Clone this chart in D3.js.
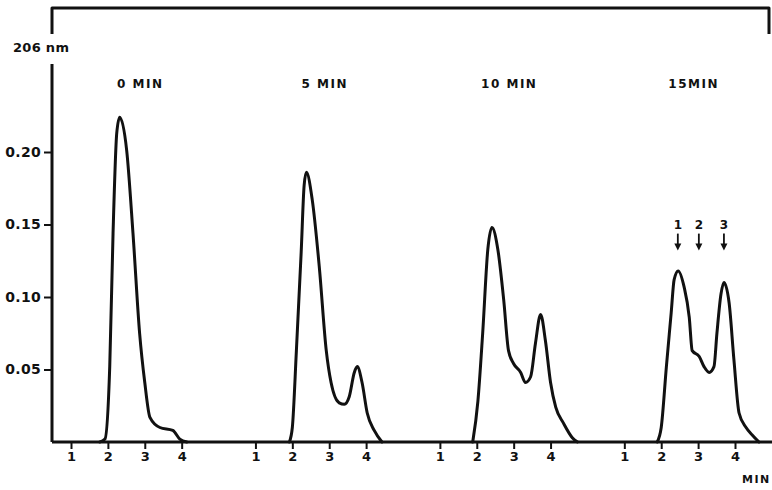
<!DOCTYPE html>
<html>
<head>
<meta charset="utf-8">
<script src="https://cdn.jsdelivr.net/npm/d3@7/dist/d3.min.js"></script>
<style>
  html, body { margin: 0; padding: 0; background: #fff; }
  svg { display: block; }
  text { font-family: "DejaVu Sans", sans-serif; font-weight: bold; fill: #111; }
</style>
</head>
<body>
<svg id="chart" width="772" height="490"></svg>
<script>
// Injection times (min) of the four chromatograms and their titles
const injectionTimes = [0, 5, 10, 15];
const panelTitles = ["0 MIN", "5 MIN", "10 MIN", "15MIN"];

// Absorbance at 206 nm vs. elution time (min) for each chromatogram
const trace0 = [[1.78,0],[1.92,0.002],[2.05,0.052],[2.14,0.144],[2.24,0.213],[2.32,0.224],[2.51,0.201],[2.68,0.144],[2.86,0.075],[3.0,0.041],[3.14,0.017],[3.41,0.010],[3.76,0.008],[3.95,0.002],[4.14,0]];
const trace5 = [[1.92,0],[2.0,0.010],[2.11,0.063],[2.24,0.131],[2.32,0.177],[2.38,0.186],[2.54,0.167],[2.73,0.121],[2.92,0.063],[3.05,0.041],[3.27,0.027],[3.41,0.026],[3.54,0.031],[3.68,0.048],[3.76,0.052],[3.89,0.041],[4.03,0.020],[4.22,0.008],[4.43,0]];
const trace10 = [[1.89,0],[2.03,0.028],[2.16,0.075],[2.30,0.133],[2.41,0.148],[2.57,0.133],[2.73,0.098],[2.86,0.063],[3.0,0.054],[3.19,0.048],[3.32,0.041],[3.46,0.045],[3.59,0.068],[3.73,0.088],[3.86,0.070],[4.0,0.041],[4.14,0.024],[4.35,0.013],[4.59,0.003],[4.73,0]];
const trace15 = [[1.89,0],[2.0,0.010],[2.14,0.052],[2.27,0.089],[2.35,0.112],[2.46,0.118],[2.62,0.107],[2.76,0.086],[2.84,0.063],[3.03,0.059],[3.16,0.052],[3.30,0.048],[3.43,0.052],[3.51,0.075],[3.62,0.102],[3.70,0.110],[3.84,0.096],[3.97,0.057],[4.11,0.020],[4.30,0.010],[4.46,0.005],[4.65,0]];
const traces = [trace0, trace5, trace10, trace15];

// Axis ticks
const yTicks = [0.05, 0.10, 0.15, 0.20];
const xTicks = [1, 2, 3, 4];

// Peak markers on the 15 min chromatogram
const peakTimes = [2.45, 3.02, 3.70];
const peakLabels = ["1", "2", "3"];
const peakMarkerLevel = 0.132;

const svg = d3.select("#chart");
const ink = "#111";

// One continuous time axis; each chromatogram is shifted by its injection time
const x = d3.scaleLinear().domain([1, 19]).range([71, 735]);
const y = d3.scaleLinear().domain([0, 0.20]).range([442, 152]);

const axisX = 52, topY = 8, rightX = 769, baseY = y(0);

// Frame: top rule with right end, broken left axis around the unit label
svg.append("path")
  .attr("d", `M${axisX},34 L${axisX},${topY} L${rightX},${topY} L${rightX},34`)
  .attr("fill", "none").attr("stroke", ink).attr("stroke-width", 3)
  .attr("stroke-linejoin", "round");
svg.append("line")
  .attr("x1", axisX).attr("x2", axisX).attr("y1", 64).attr("y2", baseY)
  .attr("stroke", ink).attr("stroke-width", 3);
svg.append("line")
  .attr("x1", axisX).attr("x2", 772).attr("y1", baseY).attr("y2", baseY)
  .attr("stroke", ink).attr("stroke-width", 3);

svg.append("text")
  .attr("x", 13).attr("y", 52)
  .attr("font-size", 13).attr("letter-spacing", 0.3)
  .text("206 nm");

// Y axis ticks
const yAxis = d3.axisLeft(y).tickValues(yTicks).tickFormat(d3.format(".2f"))
  .tickSize(8).tickPadding(3);
const gy = svg.append("g").attr("transform", `translate(${axisX},0)`).call(yAxis);
gy.select(".domain").remove();
gy.selectAll(".tick line").attr("stroke", ink).attr("stroke-width", 2);
gy.selectAll(".tick text")
  .attr("font-family", "DejaVu Sans, sans-serif").attr("font-weight", "bold")
  .attr("font-size", 14).attr("letter-spacing", 0.3).attr("fill", ink);

// X axis ticks: 1..4 min within each chromatogram
const xTickValues = injectionTimes.flatMap(t0 => xTicks.map(t => t + t0));
const xAxis = d3.axisBottom(x).tickValues(xTickValues)
  .tickFormat(d => String(((d - 1) % 5) + 1)).tickSize(7).tickPadding(3);
const gx = svg.append("g").attr("transform", `translate(0,${baseY})`).call(xAxis);
gx.select(".domain").remove();
gx.selectAll(".tick line").attr("stroke", ink).attr("stroke-width", 2);
gx.selectAll(".tick text")
  .attr("font-family", "DejaVu Sans, sans-serif").attr("font-weight", "bold")
  .attr("font-size", 13).attr("fill", ink);

svg.append("text")
  .attr("x", 742).attr("y", 483)
  .attr("font-size", 11).attr("letter-spacing", 1.5)
  .text("MIN");

// Chromatogram traces
const line = d3.line()
  .x(d => x(d[0]))
  .y(d => y(d[1]))
  .curve(d3.curveMonotoneX);

traces.forEach((tr, i) => {
  const t0 = injectionTimes[i];
  svg.append("path")
    .datum(tr.map(d => [d[0] + t0, d[1]]))
    .attr("d", line)
    .attr("fill", "none")
    .attr("stroke", ink)
    .attr("stroke-width", 3)
    .attr("stroke-linejoin", "round")
    .attr("stroke-linecap", "round");
});

// Panel titles
panelTitles.forEach((title, i) => {
  svg.append("text")
    .attr("x", x(2.88 + injectionTimes[i]))
    .attr("y", 88)
    .attr("text-anchor", "middle")
    .attr("font-size", 12)
    .attr("letter-spacing", 1.5)
    .text(title);
});

// Peak markers (numbered arrows)
const t15 = injectionTimes[3];
const tipY = y(peakMarkerLevel);
peakTimes.forEach((pt, i) => {
  const px = x(pt + t15);
  svg.append("text")
    .attr("x", px).attr("y", tipY - 22)
    .attr("text-anchor", "middle")
    .attr("font-size", 12).attr("font-weight", "normal")
    .text(peakLabels[i]);
  svg.append("line")
    .attr("x1", px).attr("x2", px)
    .attr("y1", tipY - 17).attr("y2", tipY - 5)
    .attr("stroke", ink).attr("stroke-width", 1.8);
  svg.append("path")
    .attr("d", `M${px - 3.5},${tipY - 7} L${px + 3.5},${tipY - 7} L${px},${tipY} Z`)
    .attr("fill", ink);
});
</script>
</body>
</html>
